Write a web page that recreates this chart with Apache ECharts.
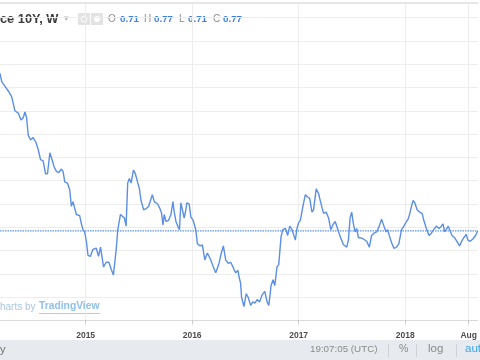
<!DOCTYPE html>
<html>
<head>
<meta charset="utf-8">
<style>html,body{margin:0;padding:0;background:#fff;}#c{width:480px;height:360px;}</style>
<script src="https://cdn.jsdelivr.net/npm/echarts@6/dist/echarts.min.js"></script>
</head>
<body>
<div id="c"></div>
<script>
// ---- data (France 10Y yield, weekly) ----
const years = [2014.196,2014.212,2014.243,2014.274,2014.306,2014.321,2014.336,2014.352,2014.367,2014.393,2014.414,2014.430,2014.446,2014.461,2014.483,2014.507,2014.533,2014.554,2014.577,2014.601,2014.623,2014.642,2014.664,2014.685,2014.704,2014.726,2014.748,2014.773,2014.788,2014.804,2014.829,2014.851,2014.866,2014.881,2014.897,2014.913,2014.944,2014.960,2014.975,2014.991,2015.007,2015.022,2015.044,2015.068,2015.100,2015.121,2015.140,2015.168,2015.193,2015.218,2015.240,2015.261,2015.287,2015.302,2015.327,2015.339,2015.364,2015.380,2015.395,2015.411,2015.427,2015.449,2015.467,2015.483,2015.505,2015.520,2015.545,2015.567,2015.592,2015.607,2015.626,2015.645,2015.676,2015.698,2015.713,2015.726,2015.738,2015.754,2015.779,2015.801,2015.820,2015.832,2015.848,2015.869,2015.881,2015.894,2015.909,2015.925,2015.941,2015.950,2015.972,2015.988,2016.009,2016.034,2016.049,2016.075,2016.096,2016.119,2016.143,2016.175,2016.199,2016.222,2016.252,2016.274,2016.293,2016.315,2016.339,2016.362,2016.383,2016.408,2016.430,2016.439,2016.455,2016.464,2016.486,2016.508,2016.526,2016.549,2016.570,2016.589,2016.610,2016.633,2016.657,2016.682,2016.704,2016.720,2016.741,2016.760,2016.776,2016.797,2016.813,2016.835,2016.851,2016.876,2016.897,2016.916,2016.938,2016.969,2016.984,2017.000,2017.016,2017.040,2017.063,2017.084,2017.103,2017.125,2017.140,2017.165,2017.187,2017.208,2017.234,2017.259,2017.281,2017.302,2017.327,2017.343,2017.365,2017.390,2017.421,2017.452,2017.467,2017.483,2017.498,2017.514,2017.530,2017.545,2017.561,2017.582,2017.608,2017.639,2017.664,2017.685,2017.707,2017.732,2017.757,2017.778,2017.801,2017.820,2017.835,2017.851,2017.872,2017.894,2017.919,2017.941,2017.966,2017.988,2018.012,2018.028,2018.044,2018.059,2018.075,2018.091,2018.112,2018.137,2018.159,2018.175,2018.199,2018.224,2018.246,2018.268,2018.293,2018.318,2018.340,2018.355,2018.371,2018.386,2018.405,2018.418,2018.440,2018.465,2018.486,2018.511,2018.536,2018.558,2018.573,2018.589,2018.611,2018.636,2018.661,2018.682];
const values = [2.12,2.05,2.01,1.97,1.92,1.86,1.80,1.81,1.78,1.72,1.74,1.79,1.74,1.59,1.55,1.57,1.53,1.47,1.38,1.37,1.26,1.26,1.44,1.38,1.32,1.28,1.27,1.30,1.28,1.19,1.18,1.12,0.98,1.02,1.01,0.91,0.90,0.83,0.78,0.76,0.68,0.56,0.55,0.61,0.62,0.55,0.63,0.46,0.50,0.50,0.44,0.39,0.61,0.78,0.91,0.92,0.88,0.81,1.18,1.22,1.18,1.29,1.26,1.27,1.13,1.03,0.95,0.96,0.98,0.97,1.08,1.02,1.00,0.96,0.92,0.82,0.91,0.85,0.86,0.91,1.02,0.93,0.85,0.80,0.78,1.01,0.95,0.88,0.95,1.01,1.00,0.89,0.86,0.78,0.66,0.64,0.65,0.52,0.58,0.52,0.46,0.41,0.49,0.58,0.64,0.52,0.49,0.50,0.46,0.41,0.43,0.38,0.32,0.20,0.12,0.23,0.20,0.13,0.16,0.15,0.18,0.16,0.22,0.25,0.16,0.13,0.30,0.35,0.30,0.46,0.48,0.72,0.78,0.79,0.73,0.81,0.78,0.69,0.79,0.84,0.86,0.98,1.08,1.06,1.05,0.93,0.95,1.13,1.09,1.01,0.92,0.93,0.88,0.78,0.83,0.85,0.79,0.72,0.65,0.63,0.69,0.88,0.93,0.83,0.76,0.79,0.71,0.71,0.70,0.68,0.63,0.73,0.75,0.76,0.81,0.87,0.81,0.76,0.78,0.73,0.67,0.62,0.63,0.66,0.78,0.81,0.85,0.87,0.92,0.98,1.03,1.01,0.95,0.93,0.92,0.86,0.79,0.73,0.75,0.78,0.81,0.79,0.81,0.83,0.76,0.75,0.81,0.82,0.73,0.71,0.68,0.64,0.69,0.72,0.74,0.69,0.68,0.70,0.73,0.77];
const xTickValues = [2015, 2016, 2017, 2018, 2018.597];
const xTickLabels = ['2015', '2016', '2017', '2018', 'Aug'];
const yGridValues = [0.2, 0.4, 0.6, 0.8, 1.0, 1.2, 1.4, 1.6, 1.8, 2.0, 2.2, 2.4, 2.6];
const titleText = 'ce 10Y, W';
const ohlcKeys = ['O', 'H', 'L', 'C'];
const ohlcValues = [0.71, 0.77, 0.71, 0.77];
const xMin = 2014.196, xMax = 2018.682;
const yMin = -0.047, yMax = 2.725;

// ---- chart ----
const FF = '"Liberation Sans", Arial, Helvetica, sans-serif';
const BLUE = '#5b8fe3';
const chart = echarts.init(document.getElementById('c'), null, {renderer: 'canvas'});
const data = years.map((y, i) => [y, values[i]]);
const lastClose = ohlcValues[3];
const priceLine = [[xMin, lastClose], [xMax, lastClose]];

function labelFor(v) {
  let best = 0, d = Infinity;
  xTickValues.forEach((t, i) => { const dd = Math.abs(t - v); if (dd < d) { d = dd; best = i; } });
  return xTickLabels[best];
}

const keyX = [108, 144, 179, 213];
const valX = [120, 154, 188, 223];
const graphics = [
  {type: 'text', left: 0, top: 12.5, style: {text: titleText, font: 'bold 12.8px ' + FF, fill: '#3a3a3a'}},
  {type: 'text', left: 64, top: 14, style: {text: '▾', font: '9px "DejaVu Sans"', fill: '#b5b5b5'}},
  {type: 'rect', shape: {x: 78, y: 13, width: 12, height: 12, r: 1}, style: {fill: '#e2e2e2'}},
  {type: 'circle', shape: {cx: 84, cy: 19, r: 3}, style: {fill: 'none', stroke: '#ffffff', lineWidth: 1}},
  {type: 'rect', shape: {x: 91, y: 13, width: 12, height: 12, r: 1}, style: {fill: '#e2e2e2'}},
  {type: 'circle', shape: {cx: 97, cy: 19, r: 3}, style: {fill: '#ffffff'}},
  // watermark
  {type: 'text', left: 0, top: 302, style: {text: 'harts by', font: '10px ' + FF, fill: '#a9c6e3'}},
  {type: 'text', left: 39, top: 301, style: {text: 'TradingView', font: 'bold 10.3px ' + FF, fill: '#8ec0ea'}},
  {type: 'line', shape: {x1: 39, y1: 313.5, x2: 100, y2: 313.5}, style: {stroke: '#a8cff0', lineWidth: 1}},
  // bottom bar
  {type: 'rect', shape: {x: 0, y: 340, width: 480, height: 20}, style: {fill: '#e7eaee'}},
  {type: 'text', left: 0, top: 344, style: {text: 'y', font: '11px ' + FF, fill: '#6f6f6f'}},
  {type: 'text', left: 310, top: 344.5, style: {text: '19:07:05 (UTC)', font: '9.8px ' + FF, fill: '#8a8a8a'}},
  {type: 'line', shape: {x1: 388.5, y1: 344, x2: 388.5, y2: 357}, style: {stroke: '#cfd3d8', lineWidth: 1}},
  {type: 'text', left: 399, top: 344, style: {text: '%', font: '10.5px ' + FF, fill: '#8a8a8a'}},
  {type: 'line', shape: {x1: 416.5, y1: 344, x2: 416.5, y2: 357}, style: {stroke: '#cfd3d8', lineWidth: 1}},
  {type: 'text', left: 428, top: 343, style: {text: 'log', font: '11.5px ' + FF, fill: '#8a8a8a'}},
  {type: 'line', shape: {x1: 456.5, y1: 344, x2: 456.5, y2: 357}, style: {stroke: '#cfd3d8', lineWidth: 1}},
  {type: 'text', left: 465, top: 343, style: {text: 'auto', font: '11.5px ' + FF, fill: '#3aa6ea'}}
];
ohlcKeys.forEach((k, i) => {
  graphics.push({type: 'text', left: keyX[i], top: 14, style: {text: k, font: '10px ' + FF, fill: '#8a8a8a'}});
  graphics.push({type: 'text', left: valX[i], top: 14, style: {text: ohlcValues[i].toFixed(2), font: 'bold 9.8px ' + FF, fill: '#3f7fe0'}});
});

chart.setOption({
  animation: false,
  backgroundColor: '#ffffff',
  color: [BLUE],
  grid: {left: 0, right: 0, top: 3, bottom: 34, containLabel: false},
  xAxis: [{
    type: 'value', min: xMin, max: xMax,
    axisLine: {show: true, lineStyle: {color: '#dadada', width: 1}},
    axisTick: {show: true, customValues: xTickValues, length: 3, lineStyle: {color: '#c4c4c4'}},
    axisLabel: {show: true, customValues: xTickValues, formatter: labelFor, color: '#4d4d4d', fontSize: 8.5, fontWeight: 'bold', fontFamily: FF, margin: 5},
    splitLine: {show: true, lineStyle: {color: '#ededed', width: 1}}
  }, {
    type: 'value', position: 'top', min: xMin, max: xMax,
    axisLine: {show: true, lineStyle: {color: '#e6e6e6', width: 2}},
    axisTick: {show: false}, axisLabel: {show: false}, splitLine: {show: false}
  }],
  yAxis: {
    type: 'value', min: yMin, max: yMax, position: 'right',
    axisLine: {show: false},
    axisTick: {show: false, customValues: yGridValues},
    axisLabel: {show: false},
    splitLine: {show: true, lineStyle: {color: '#ededed', width: 1}}
  },
  series: [{
    name: 'price line', type: 'line', data: priceLine, xAxisIndex: 0, showSymbol: false, symbol: 'none',
    silent: true, z: 1,
    itemStyle: {color: '#5d93ea'},
    lineStyle: {color: '#5d93ea', type: [1.5, 1], width: 1.2}
  }, {
    name: 'France 10Y', type: 'line', data: data, xAxisIndex: 0, showSymbol: false, symbol: 'none',
    z: 2,
    itemStyle: {color: BLUE},
    lineStyle: {color: BLUE, width: 1.4}
  }],
  graphic: graphics
});
</script>
</body>
</html>
